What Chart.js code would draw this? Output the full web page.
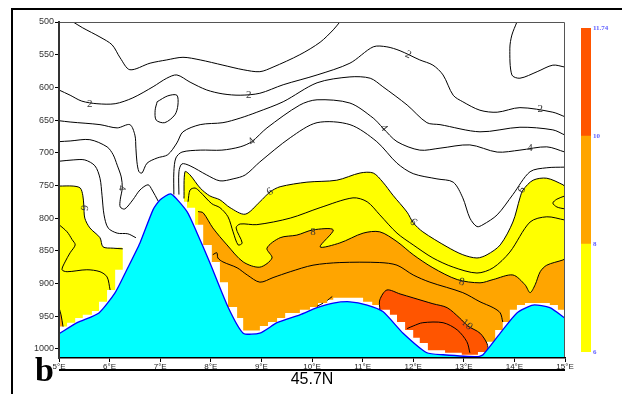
<!DOCTYPE html>
<html><head><meta charset="utf-8">
<script src="https://cdn.jsdelivr.net/npm/chart.js@4.4.1/dist/chart.umd.min.js"></script>
<style>
html,body{margin:0;padding:0;background:#fff;overflow:hidden;}
#wrap{position:relative;width:622px;height:394px;overflow:hidden;background:#fff;}
#frame{position:absolute;left:11px;top:8px;width:700px;height:500px;border-left:2px solid #000;border-top:2px solid #000;}
#main{position:absolute;left:0;top:0;}
#cbar{position:absolute;left:570px;top:0;}
#uline{position:absolute;left:59px;top:369px;width:506px;height:2px;background:#000;}
#panel{position:absolute;left:35px;top:353px;font:bold 34px "Liberation Serif",serif;line-height:34px;color:#000;}
#xtitle{position:absolute;left:262px;top:371px;width:100px;text-align:center;font:16px "Liberation Sans",Arial,sans-serif;line-height:16px;color:#000;}
</style></head>
<body>
<div id="wrap">
  <div id="frame"></div>
  <canvas id="main" width="622" height="394"></canvas>
  <canvas id="cbar" width="52" height="394"></canvas>
  <div id="uline"></div>
  <div id="panel">b</div>
  <div id="xtitle">45.7N</div>
</div>
<script>
// ---------- axes ----------
const xTicks = [5,6,7,8,9,10,11,12,13,14,15];
const yTicks = [500,550,600,650,700,750,800,850,900,950,1000];
// colour bar levels (equal-sized boxes)
const cbLevels = [6,8,10,11.74];
const cbColors = ['#ffff00','#ffa500','#ff5500'];

// ---------- terrain (lon, hPa) ----------
const terrain = [[5.00,977],[5.36,960],[5.79,945],[6.11,914],[6.34,879],[6.60,838],[6.86,787],[7.00,772],[7.21,763],[7.53,790],[7.73,823],[7.98,868],[8.34,936],[8.64,976],[8.97,976],[9.31,960],[9.76,948],[10.10,937],[10.42,930],[10.75,928],[11.09,933],[11.40,943],[11.80,976],[12.27,1006],[12.59,1009],[13.26,1012],[13.38,1009],[13.72,976],[14.05,945],[14.37,933],[14.70,937],[15.00,953]];
// lowest level with data (stepped grid edge above terrain)
const dataEdge = [[5.00,966],[5.16,960],[5.32,953],[5.47,948],[5.65,942],[5.79,928],[5.95,910],[6.11,879],[6.26,847],[6.42,833],[6.60,810],[6.80,780],[7.00,770],[7.19,765],[7.39,775],[7.53,784],[7.69,810],[7.85,841],[8.02,867],[8.18,898],[8.34,936],[8.52,953],[8.64,972],[8.97,965],[9.13,959],[9.31,953],[9.47,945],[9.76,940],[9.96,936],[10.12,930],[10.30,925],[10.42,922],[11.01,928],[11.19,933],[11.34,940],[11.54,948],[11.68,959],[11.84,971],[12.00,983],[12.13,991],[12.29,1002],[12.63,1006],[12.96,1009],[13.28,1005],[13.46,989],[13.62,971],[13.77,959],[13.91,940],[14.05,933],[14.21,930],[14.70,933],[14.86,940],[15.00,940]];

// ---------- contours (lon, hPa) ----------
const c1a = [[5.28,500],[5.47,509],[5.81,523],[6.05,535],[6.21,555],[6.40,573],[6.80,563],[7.13,558],[7.45,554],[7.79,558],[8.24,566],[8.64,573],[8.97,576],[9.23,569],[9.76,550],[10.16,531],[10.42,512],[10.55,500]];
const c1b = [[14.05,500],[13.95,520],[13.91,540],[13.95,581],[14.11,586],[14.45,576],[14.76,566],[15.00,569]];
const c2 = [[5.00,604],[5.22,612],[5.45,621],[5.75,625],[6.11,625],[6.46,616],[6.86,599],[7.13,586],[7.33,581],[7.59,592],[7.92,604],[8.24,610],[8.58,612],[8.97,609],[9.43,596],[10.10,581],[10.75,563],[11.21,538],[11.48,538],[11.74,544],[12.13,558],[12.39,566],[12.59,581],[12.79,612],[12.98,622],[13.32,635],[13.66,638],[14.11,631],[14.76,638],[15.00,645]];
const c2loop = [[6.94,622],[7.15,613],[7.33,612],[7.35,627],[7.29,642],[7.09,654],[6.92,650],[6.90,635],[6.94,622]];
const c3 = [[5.00,651],[5.22,653],[5.81,657],[6.15,662],[6.40,657],[6.50,673],[6.52,693],[6.54,714],[6.58,729],[6.64,731],[6.74,716],[6.94,708],[7.15,703],[7.33,685],[7.45,668],[7.79,657],[8.24,654],[8.58,647],[8.91,638],[9.43,622],[10.10,593],[10.75,584],[11.15,586],[11.40,599],[11.88,627],[12.27,654],[12.53,657],[13.32,668],[14.11,661],[14.76,665],[15.00,673]];
const c4w = [[5.00,683],[5.22,682],[5.61,680],[5.95,691],[6.07,703],[6.15,719],[6.23,737],[6.25,754],[6.21,772],[6.21,783],[6.30,786],[6.46,772],[6.60,757],[6.76,749],[6.84,757],[6.96,774]];
const c4e = [[7.27,764],[7.27,729],[7.31,708],[7.43,699],[7.79,696],[8.22,696],[8.58,691],[8.81,683],[9.11,662],[9.76,627],[10.10,619],[10.75,624],[11.21,647],[11.40,662],[11.68,683],[12.13,696],[12.53,693],[13.12,688],[13.66,699],[14.11,696],[14.64,691],[15.00,699]];
const c5w = [[5.00,713],[5.28,711],[5.51,711],[5.71,720],[5.81,739],[5.85,765],[5.89,795],[5.97,815],[6.15,823],[6.36,824],[6.52,830]];
const c5e = [[7.37,764],[7.37,729],[7.43,717],[7.59,720],[7.92,734],[8.18,743],[8.44,740],[8.68,734],[8.97,714],[9.57,677],[10.10,654],[10.75,657],[11.28,683],[11.68,716],[12.00,732],[12.47,740],[12.79,745],[12.98,769],[13.12,800],[13.26,813],[13.38,810],[13.66,795],[13.97,764],[14.31,729],[14.64,723],[15.00,722]];
const c6w = [[5.00,751],[5.28,751],[5.42,754],[5.47,765],[5.49,780],[5.51,800],[5.61,815],[5.81,830],[5.87,844],[6.07,846],[6.26,847]];
const c6e = [[7.47,770],[7.49,729],[7.59,734],[7.79,754],[7.98,766],[8.18,772],[8.38,784],[8.68,794],[8.97,775],[9.17,760],[9.37,752],[9.90,745],[10.49,742],[10.95,731],[11.21,731],[11.40,745],[11.60,765],[11.88,791],[12.00,807],[12.19,821],[12.67,844],[12.98,856],[13.26,861],[13.46,856],[13.72,841],[13.97,806],[14.11,769],[14.17,757],[14.37,742],[14.64,739],[14.96,749],[15.00,752]];
const c6loop = [[15.00,766],[14.84,771],[14.76,777],[14.84,783],[15.00,786]];
const c7w = [[5.00,810],[5.16,821],[5.26,833],[5.32,841],[5.22,853],[5.12,867],[5.06,879],[5.16,882],[5.55,879],[5.81,882],[5.95,890],[6.01,910]];
const c7e = [[7.55,775],[7.59,757],[7.69,754],[7.79,760],[8.02,778],[8.18,784],[8.34,798],[8.44,821],[8.54,841],[8.62,838],[8.50,815],[8.58,809],[8.91,810],[9.57,800],[10.16,784],[10.81,769],[11.09,775],[11.34,795],[11.68,823],[12.00,841],[12.39,861],[12.79,875],[13.26,884],[13.58,876],[13.91,852],[14.31,806],[14.64,798],[15.00,803]];
const c8w = [[5.00,937],[5.04,948],[5.08,966]];
const c8e = [[7.75,790],[7.85,792],[8.04,815],[8.32,841],[8.64,867],[8.97,875],[9.21,861],[9.11,846],[9.37,830],[9.70,826],[10.02,818],[10.42,818],[10.16,844],[10.55,838],[11.01,823],[11.34,821],[11.68,836],[12.00,856],[12.39,876],[12.87,894],[13.32,899],[13.58,894],[13.97,887],[14.21,902],[14.31,914],[14.41,902],[14.51,882],[14.64,872],[14.96,864],[15.00,862]];
const c9 = [[8.04,856],[8.12,853],[8.14,861],[8.24,867],[8.52,876],[8.72,887],[8.97,898],[9.23,891],[9.57,882],[10.02,872],[10.55,868],[11.34,868],[11.68,872],[12.00,887],[12.33,898],[12.98,914],[13.32,928],[13.58,937],[13.72,945],[13.77,959]];
const c10 = [[11.34,940],[11.34,925],[11.48,910],[11.74,916],[12.00,922],[12.39,931],[12.67,937],[12.92,953],[13.08,965],[13.32,976],[13.46,992],[13.48,1003]];
const c10bitA = [[10.10,935],[10.22,930]];
const c10bitB = [[10.30,926],[10.40,920]];
const c11 = [[11.88,969],[12.00,965],[12.19,960],[12.59,960],[12.87,971],[13.06,989],[13.12,1006]];
// contour labels: lon, hPa, text, angle
const contourLabels = [[5.61,626,'2',0],[8.75,612,'2',0],[11.90,550,'2',25],[14.51,633,'2',0],[6.25,754,'4',90],[8.81,683,'4',-40],[11.42,662,'4',50],[14.31,693,'4',0],[5.49,784,'6',100],[9.17,760,'6',-30],[12.00,806,'6',45],[14.15,757,'6',-60],[10.02,821,'8',0],[12.96,898,'8',10],[13.06,963,'10',40]];

const P_BOTTOM = 1014;
const pts = a => a.map(([x, y]) => ({x, y}));
const closeDown = a => a.concat([[a[a.length-1][0], P_BOTTOM], [a[0][0], P_BOTTOM]]);

function lineDS(arr, extra) {
  return Object.assign({data: pts(arr), borderColor:'#000', borderWidth:1, pointRadius:0, tension:0.3, fill:false, order:2}, extra || {});
}
function areaDS(arr, color, order) {
  return {data: pts(arr), backgroundColor: color, borderColor:'rgba(0,0,0,0)', borderWidth:0, pointRadius:0, tension:0.3, fill:'shape', order};
}

const datasets = [
  areaDS(closeDown(c6w), '#ffff00', 7),
  areaDS(closeDown(c6e), '#ffff00', 7),
  areaDS(closeDown(c8w), '#ffa500', 6),
  areaDS(closeDown(c8e), '#ffa500', 6),
  areaDS(closeDown(c10), '#ff5500', 5),
  Object.assign(areaDS(dataEdge.concat([[15, P_BOTTOM],[5, P_BOTTOM]]), '#ffffff', 4), {stepped:'before'}),
  lineDS(c1a), lineDS(c1b), lineDS(c2), lineDS(c2loop), lineDS(c3),
  lineDS(c4w), lineDS(c4e), lineDS(c5w), lineDS(c5e),
  lineDS(c6w), lineDS(c6e), lineDS(c6loop), lineDS(c7w), lineDS(c7e),
  lineDS(c8w), lineDS(c8e), lineDS(c9), lineDS(c10), lineDS(c10bitA), lineDS(c10bitB), lineDS(c11),
  {data: pts(terrain), backgroundColor:'#00ffff', borderColor:'#0000ff', borderWidth:1.3, pointRadius:0, tension:0.2, fill:{value:P_BOTTOM}, order:1}
];

const decor = {
  id:'decor',
  afterDatasetsDraw(chart) {
    const {ctx, chartArea:a, scales:{x, y}} = chart;
    ctx.save();
    ctx.strokeStyle = '#555'; ctx.lineWidth = 1;
    ctx.beginPath();
    ctx.moveTo(a.left, a.top + 0.5); ctx.lineTo(a.right - 0.5, a.top + 0.5); ctx.lineTo(a.right - 0.5, a.bottom);
    ctx.stroke();
    ctx.font = '11px "Liberation Serif", serif';
    ctx.fillStyle = '#333'; ctx.textAlign = 'center'; ctx.textBaseline = 'middle';
    for (const [lon, p, t, ang] of contourLabels) {
      ctx.save();
      ctx.translate(x.getPixelForValue(lon), y.getPixelForValue(p));
      ctx.rotate(ang * Math.PI / 180);
      ctx.fillText(t, 0, 0);
      ctx.restore();
    }
    ctx.restore();
  }
};

new Chart(document.getElementById('main'), {
  type:'line',
  data:{datasets},
  options:{
    responsive:false, animation:false, events:[],
    layout:{padding:{left:19, right:57, top:22, bottom:22}},
    plugins:{legend:{display:false}, tooltip:{enabled:false}, title:{display:false}},
    scales:{
      x:{type:'linear', min:5, max:15,
        afterBuildTicks:s=>{s.ticks = xTicks.map(v=>({value:v}));},
        afterFit:s=>{s.height = 14;},
        grid:{drawOnChartArea:false, drawTicks:true, tickLength:4, color:'#000', lineWidth:1},
        border:{display:true, color:'#000', width:1.5, z:1},
        ticks:{padding:0, maxRotation:0, autoSkip:false, color:'#222', font:{family:'"Liberation Sans", Arial, sans-serif', size:8}, callback:v=>v+'°E'}
      },
      y:{type:'linear', reverse:true, min:500, max:P_BOTTOM,
        afterBuildTicks:s=>{s.ticks = yTicks.map(v=>({value:v}));},
        afterFit:s=>{s.width = 40;},
        grid:{drawOnChartArea:false, drawTicks:true, tickLength:4, color:'#000', lineWidth:1},
        border:{display:true, color:'#333', width:2, z:1},
        ticks:{padding:1, color:'#333', font:{family:'"Liberation Sans", Arial, sans-serif', size:9}, callback:v=>String(v)}
      }
    }
  },
  plugins:[decor]
});

// colour bar: equal-height boxes, one per level interval
new Chart(document.getElementById('cbar'), {
  type:'bar',
  data:{labels:[''], datasets: cbColors.map((c,i)=>({data:[[i, i+1]], backgroundColor:c, borderWidth:0, barPercentage:1, categoryPercentage:1}))},
  options:{
    responsive:false, animation:false, events:[],
    layout:{padding:{left:11, right:6, top:28, bottom:42}},
    plugins:{legend:{display:false}, tooltip:{enabled:false}},
    scales:{
      x:{display:false, stacked:true},
      y:{stacked:false, position:'right', min:0, max:cbLevels.length-1,
        afterBuildTicks:s=>{s.ticks = cbLevels.map((v,i)=>({value:i}));},
        afterFit:s=>{s.width = 25;},
        grid:{display:false, drawTicks:false}, border:{display:false},
        ticks:{padding:2, color:'#6060ff', font:{family:'"Liberation Serif", serif', size:7, weight:'bold'}, callback:v=>String(cbLevels[v])}
      }
    }
  }
});
</script>
</body></html>
